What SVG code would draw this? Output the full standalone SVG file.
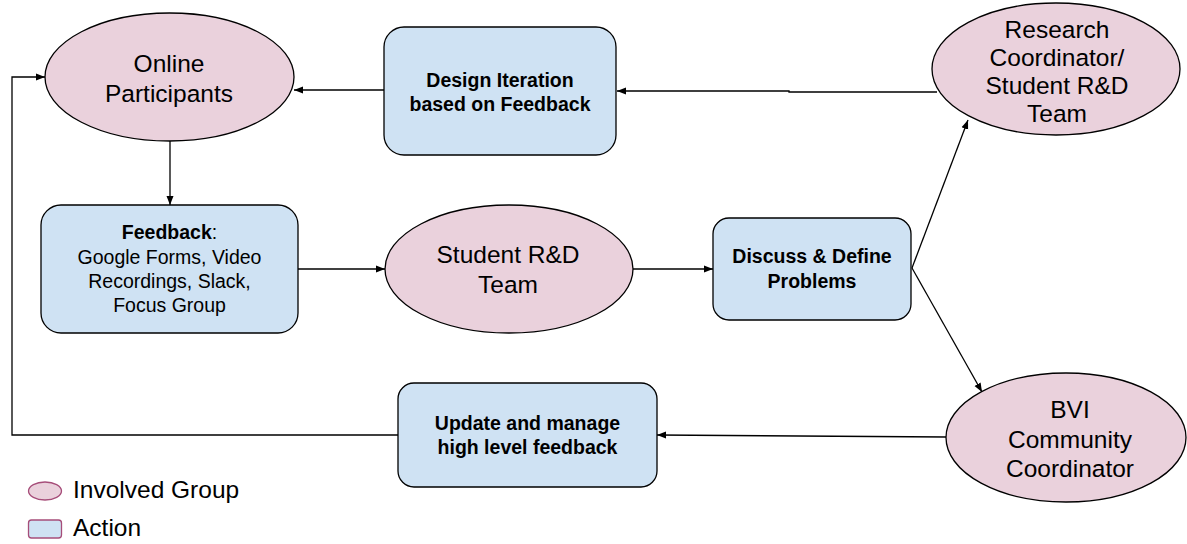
<svg xmlns="http://www.w3.org/2000/svg" width="1187" height="544" viewBox="0 0 1187 544">
<style>
  .grp { fill: #ead1dc; stroke: #000; stroke-width: 1.3; }
  .act { fill: #cfe2f3; stroke: #000; stroke-width: 1.3; }
  .t { font-family: "Liberation Sans", Arial, sans-serif; font-size: 24.5px; fill: #000; text-anchor: middle; }
  .b { font-family: "Liberation Sans", Arial, sans-serif; font-size: 19.5px; font-weight: bold; fill: #000; text-anchor: middle; }
  .r { font-family: "Liberation Sans", Arial, sans-serif; font-size: 19.5px; fill: #000; text-anchor: middle; }
  .c { fill: none; stroke: #000; stroke-width: 1.3; marker-end: url(#ah); }
  .lg { font-family: "Liberation Sans", Arial, sans-serif; font-size: 24.5px; fill: #000; }
</style>
<defs>
  <marker id="ah" markerUnits="userSpaceOnUse" markerWidth="10" markerHeight="8" refX="9" refY="4" orient="auto">
    <path d="M0,0.5 L9,4 L0,7.5 z" fill="#000"/>
  </marker>
</defs>
<rect width="1187" height="544" fill="#fff"/>

<g id="connectors">
  <line class="c" x1="170" y1="141" x2="170" y2="205"/>
  <line class="c" x1="298" y1="269" x2="385" y2="269"/>
  <line class="c" x1="633" y1="269" x2="713" y2="269"/>
  <line class="c" x1="912" y1="268" x2="968" y2="120"/>
  <line class="c" x1="912" y1="268" x2="982" y2="392"/>
  <polyline class="c" points="937,92 789,92 789,91 617,91"/>
  <line class="c" x1="384" y1="90" x2="294" y2="90"/>
  <line class="c" x1="946" y1="437" x2="657" y2="435"/>
  <polyline class="c" points="398,435 12,435 12,77 45,77"/>
</g>

<g id="online-participants">
  <ellipse class="grp" cx="169.5" cy="77" rx="124.5" ry="64"/>
  <text class="t" x="169" y="72">Online</text>
  <text class="t" x="169" y="102">Participants</text>
</g>

<g id="design-iteration">
  <rect class="act" x="384" y="27" width="232" height="128" rx="20"/>
  <text class="b" x="500" y="87">Design Iteration</text>
  <text class="b" x="500" y="111">based on Feedback</text>
</g>

<g id="research-coordinator">
  <ellipse class="grp" cx="1056" cy="69" rx="124" ry="66"/>
  <text class="t" x="1057" y="38">Research</text>
  <text class="t" x="1057" y="66">Coordinator/</text>
  <text class="t" x="1057" y="94">Student R&amp;D</text>
  <text class="t" x="1057" y="122">Team</text>
</g>

<g id="feedback">
  <rect class="act" x="41" y="205" width="257" height="128" rx="20"/>
  <text class="r" x="169.5" y="239"><tspan font-weight="bold">Feedback</tspan>:</text>
  <text class="r" x="169.5" y="264">Google Forms, Video</text>
  <text class="r" x="169.5" y="288">Recordings, Slack,</text>
  <text class="r" x="169.5" y="312">Focus Group</text>
</g>

<g id="student-team">
  <ellipse class="grp" cx="509" cy="269" rx="124" ry="64"/>
  <text class="t" x="508" y="263">Student R&amp;D</text>
  <text class="t" x="508" y="293">Team</text>
</g>

<g id="discuss">
  <rect class="act" x="713" y="218" width="198" height="102" rx="16"/>
  <text class="b" x="812" y="263">Discuss &amp; Define</text>
  <text class="b" x="812" y="288">Problems</text>
</g>

<g id="bvi-coordinator">
  <ellipse class="grp" cx="1066" cy="437.5" rx="120" ry="64.5"/>
  <text class="t" x="1070" y="418">BVI</text>
  <text class="t" x="1070" y="448">Community</text>
  <text class="t" x="1070" y="477">Coordinator</text>
</g>

<g id="update">
  <rect class="act" x="398" y="383" width="259" height="104" rx="16"/>
  <text class="b" x="527.5" y="430">Update and manage</text>
  <text class="b" x="527.5" y="454">high level feedback</text>
</g>

<g id="legend">
  <ellipse cx="45" cy="491" rx="16.5" ry="9" fill="#ead1dc" stroke="#a64d79" stroke-width="1.3"/>
  <text class="lg" x="73" y="498">Involved Group</text>
  <rect x="28.5" y="520" width="33" height="18" rx="3" fill="#cfe2f3" stroke="#a64d79" stroke-width="1.3"/>
  <text class="lg" x="73" y="536">Action</text>
</g>
</svg>
